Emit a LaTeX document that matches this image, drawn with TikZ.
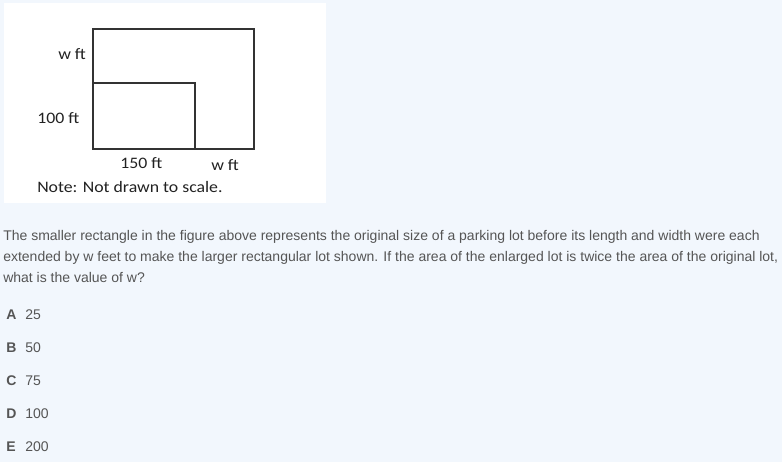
\documentclass[tikz,border=0pt]{standalone}
\usepackage{fontspec}
\setmainfont{Liberation Sans}
\newfontfamily\figfont[FakeStretch=1.11]{Carlito}
\usepackage{tikz}
\usetikzlibrary{positioning, calc}

\definecolor{pagebg}{HTML}{F2F7FD}
\definecolor{qtext}{HTML}{555555}
\definecolor{figline}{HTML}{333333}
\definecolor{figtext}{HTML}{222222}

\begin{document}
\begin{tikzpicture}[
    % one unit = one pixel of the screenshot, y downwards
    x=0.75pt, y=-0.75pt,
    % Styles
    question/.style={anchor=base west, inner sep=0pt, text=qtext, font=\fontsize{10.5}{12}\selectfont},
    choiceletter/.style={anchor=base west, inner sep=0pt, text=qtext, font=\fontsize{10.5}{12}\selectfont\bfseries},
    choicevalue/.style={anchor=base west, inner sep=0pt, text=qtext, font=\fontsize{10.5}{12}\selectfont},
    dimlabel/.style={anchor=base west, inner sep=0pt, text=figtext, font=\figfont\fontsize{12}{14}\selectfont},
    lot/.style={draw=figline, line width=1.2pt}
]
% --- Page and figure background ---
\fill[pagebg] (0,0) rectangle (782,462);
\useasboundingbox (0,0) rectangle (782,462);
\fill[white] (4,3) rectangle (326,203);

% --- Lots ---
\draw[lot] (93,29) rectangle (254,149);
\draw[lot] (93,149) |- (195,83) -- (195,149);

% --- Dimension labels ---
\node[dimlabel] (w_side) at (58,59) {w ft};
\node[dimlabel] (h_side) at (37,123) {100 ft};
\node[dimlabel] (l_side) at (120,168) {150 ft};
\node[dimlabel] (w_bottom) at (211,170) {w ft};
\node[dimlabel] (note) at (37,192) {Note: Not drawn to scale.};

% --- Question ---
\node[question] (line_one) at (3,240) {The smaller rectangle in the figure above represents the original size of a parking lot before its length and width were each};
\node[question] (line_two) at (3,261) {extended by w feet to make the larger rectangular lot shown. If the area of the enlarged lot is twice the area of the original lot,};
\node[question] (line_three) at (3,282) {what is the value of w?};

% --- Answer choices ---
\node[choiceletter] (opt_a) at (6,319) {A};
\node[choiceletter] (opt_b) at (6,352) {B};
\node[choiceletter] (opt_c) at (6,385) {C};
\node[choiceletter] (opt_d) at (6,418) {D};
\node[choiceletter] (opt_e) at (6,451) {E};

\node[choicevalue] (val_a) at (25,319) {25};
\node[choicevalue] (val_b) at (25,352) {50};
\node[choicevalue] (val_c) at (25,385) {75};
\node[choicevalue] (val_d) at (25,418) {100};
\node[choicevalue] (val_e) at (25,451) {200};

\end{tikzpicture}
\end{document}
